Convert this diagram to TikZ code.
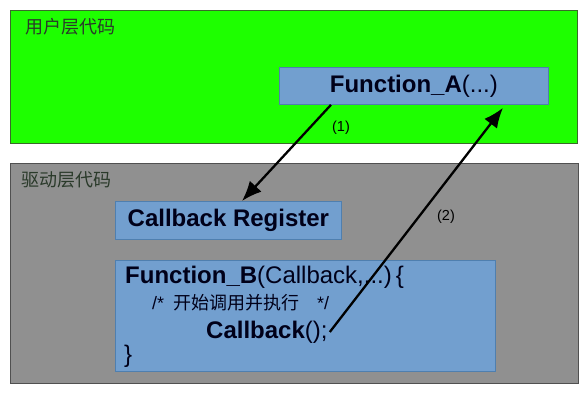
\documentclass[tikz,border=0pt]{standalone}
\usepackage{fontspec}
\setmainfont{Liberation Sans}
\newfontfamily\cjk{Noto Sans CJK SC}
\usetikzlibrary{arrows.meta,calc}
\definecolor{usergreen}{HTML}{1EFF00}
\definecolor{usergreenline}{HTML}{3A6A2A}
\definecolor{drvgray}{HTML}{909090}
\definecolor{drvgrayline}{HTML}{505050}
\definecolor{boxblue}{HTML}{729FCF}
\definecolor{boxblueline}{HTML}{4F7FAF}
\definecolor{titlecol}{HTML}{2A3A2A}
\begin{document}
\begin{tikzpicture}[x=1pt,y=-1pt,
  layerbox/.style={draw=#1, line width=1pt, inner sep=0pt, anchor=north west},
  bluebox/.style={fill=boxblue, draw=boxblueline, line width=0.8pt, inner sep=0pt, anchor=north west},
  bigtxt/.style={font=\fontsize{24}{28}\selectfont, inner sep=0pt, text=black!90!blue},
  codetxt/.style={bigtxt, anchor=base west},
  titletxt/.style={font=\cjk\fontsize{18}{20}\selectfont, inner sep=0pt, text=titlecol},
  steptxt/.style={font=\fontsize{14.5}{16}\selectfont, inner sep=0pt},
  callarrow/.style={line width=2.3pt, -{Latex[length=20pt,width=16pt]}}
]
\useasboundingbox (0,0) rectangle (585,393);
\fill[white] (0,0) rectangle (585,393);

% layers
\node[layerbox=usergreenline, fill=usergreen, minimum width=567pt, minimum height=133pt] (user) at (10,10) {};
\node[layerbox=drvgrayline, fill=drvgray, minimum width=568pt, minimum height=220pt] (drv) at (10,163) {};
\node[titletxt] (usertitle) at (70.5,27) {用户层代码};
\node[titletxt] (drvtitle) at (66,180) {驱动层代码};

% boxes
\node[bluebox, minimum width=269pt, minimum height=37pt, bigtxt] (fa) at (279,67) {\textbf{Function\_A}(...)};
\node[bluebox, minimum width=226pt, minimum height=38pt, bigtxt] (cr) at (115,201) {\textbf{Callback Register}};
\node[bluebox, minimum width=380pt, minimum height=111pt] (fb) at (115,260) {};

% code lines
\node[codetxt] (l1) at (125,283) {\textbf{Function\_B}(Callback,...)\hspace{4pt}\{};
\node[codetxt, font=\fontsize{18}{20}\selectfont] (l2) at (152,309) {/*\hspace{9pt}{\cjk 开始调用并执行}\hspace{18pt}*/};
\node[codetxt] (l3) at (206,338) {\textbf{Callback}();};
\node[codetxt] (l4) at (124,362) {\}};

% step labels
\node[steptxt] (s1) at (341,128) {(1)};
\node[steptxt] (s2) at (446,217) {(2)};

% arrows
\coordinate (a1s) at ($(fa.south west)+(52,0)$);
\coordinate (a1e) at ($(cr.north west)+(127,0)$);
\coordinate (a2s) at ($(l3.base east)+(2,-6)$);
\coordinate (a2e) at ($(fa.south west)+(224,3)$);
\draw[callarrow] (a1s) -- (a1e);
\draw[callarrow] (a2s) -- (a2e);
\end{tikzpicture}
\end{document}
